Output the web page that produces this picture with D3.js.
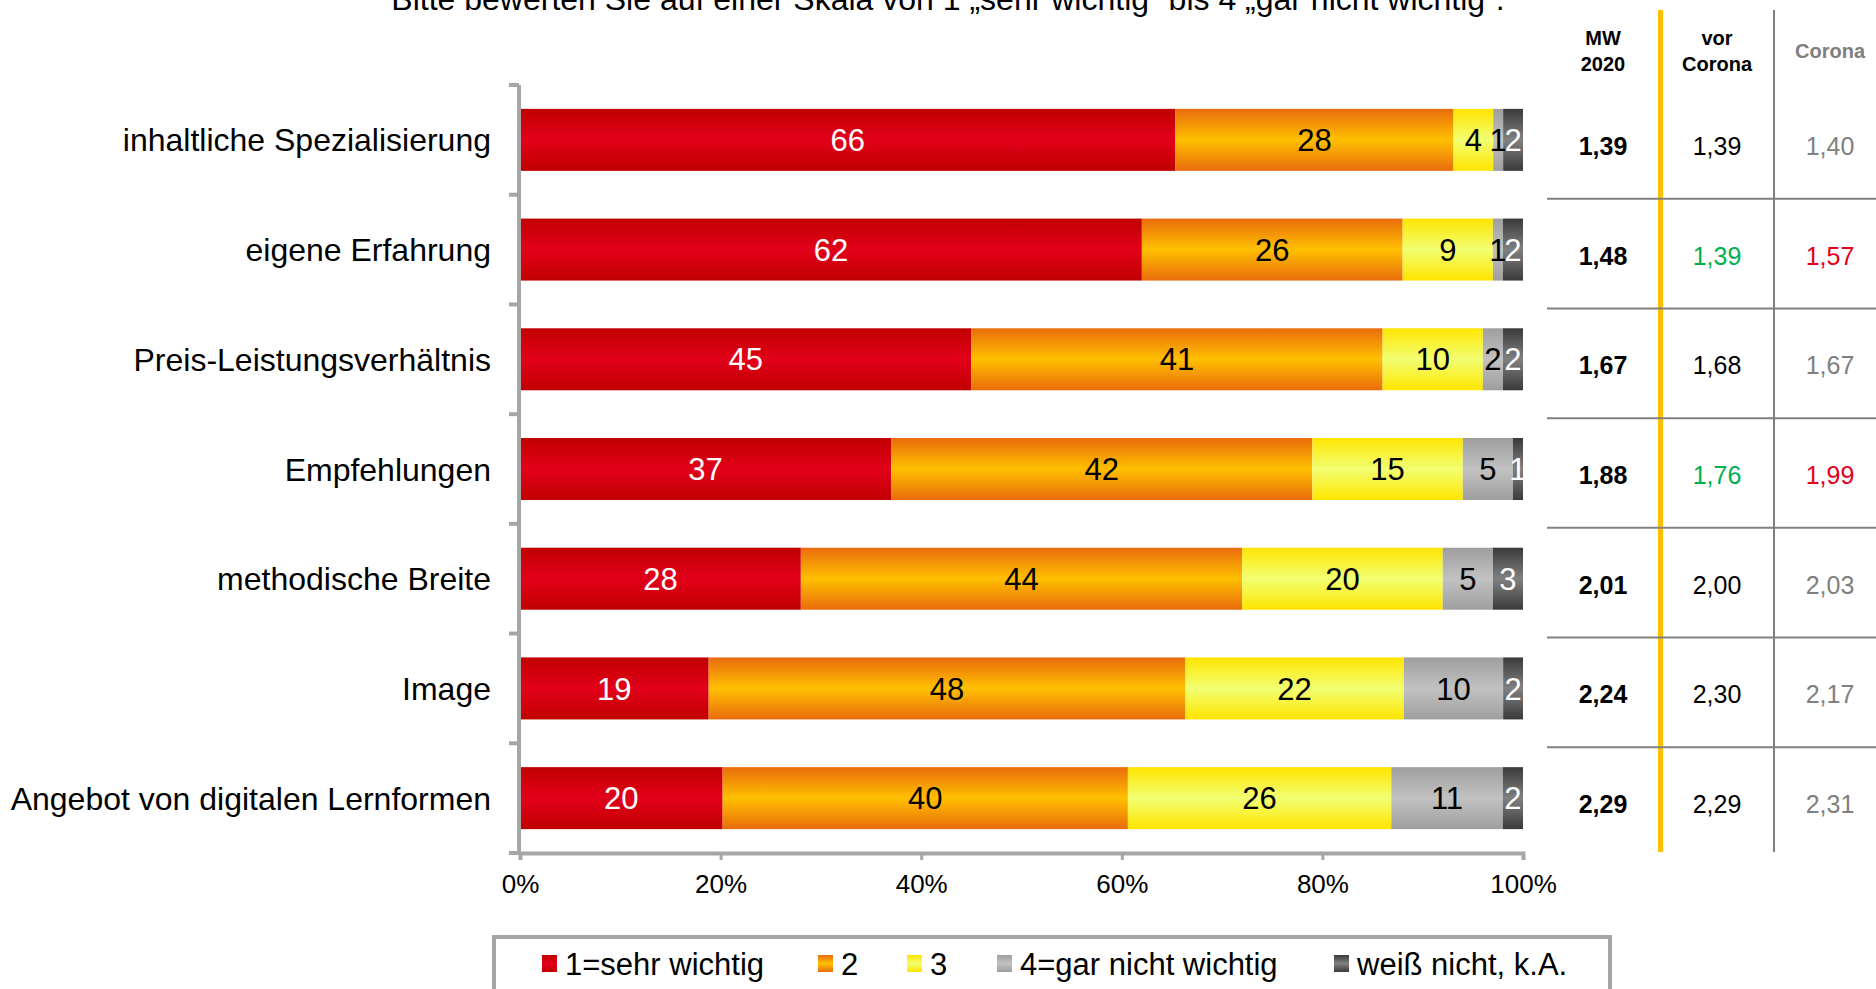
<!DOCTYPE html>
<html><head><meta charset="utf-8">
<script src="https://cdn.jsdelivr.net/npm/d3@7"></script>
<style>
html,body{margin:0;padding:0;background:#fff;}
svg{display:block;font-family:"Liberation Sans",Arial,sans-serif;}
</style></head>
<body>
<svg id="chart" width="1876" height="989"></svg>
<script>
// ---- data ----
const title = "Bitte bewerten Sie auf einer Skala von 1 \u201Esehr wichtig\u201C bis 4 \u201Egar nicht wichtig\u201C.";
const categories = ["inhaltliche Spezialisierung","eigene Erfahrung","Preis-Leistungsverhältnis","Empfehlungen","methodische Breite","Image","Angebot von digitalen Lernformen"];
const seriesNames = ["1=sehr wichtig","2","3","4=gar nicht wichtig","weiß nicht, k.A."];
const sehrWichtig = [66,62,45,37,28,19,20];
const wert2 = [28,26,41,42,44,48,40];
const wert3 = [4,9,10,15,20,22,26];
const garNicht = [1,1,2,5,5,10,11];
const weissNicht = [2,2,2,1,3,2,2];
const mw2020 = ["1,39","1,48","1,67","1,88","2,01","2,24","2,29"];
const vorCorona = ["1,39","1,39","1,68","1,76","2,00","2,30","2,29"];
const vorCoronaTone = ["n","g","n","g","n","n","n"];
const corona = ["1,40","1,57","1,67","1,99","2,03","2,17","2,31"];
const coronaTone = ["n","r","n","r","n","n","n"];
const xTicks = [0,0.2,0.4,0.6,0.8,1];

// ---- setup ----
const svg = d3.select("#chart");
const defs = svg.append("defs");
const grad = [
  ["#c00000","#e2001a"],
  ["#e96c0c","#ffc000"],
  ["#ffe500","#f2ff72"],
  ["#9e9e9e","#c2c2c2"],
  ["#3a3a3a","#808080"]
];
const labelColors = ["#fff","#000","#000","#000","#fff"];
grad.forEach((g,i)=>{
  const lg = defs.append("linearGradient").attr("id","g"+i).attr("x1",0).attr("y1",0).attr("x2",0).attr("y2",1);
  lg.append("stop").attr("offset","0%").attr("stop-color",g[0]);
  lg.append("stop").attr("offset","50%").attr("stop-color",g[1]);
  lg.append("stop").attr("offset","100%").attr("stop-color",g[0]);
});

const rows = categories.map((c,i)=>({cat:c, s0:sehrWichtig[i], s1:wert2[i], s2:wert3[i], s3:garNicht[i], s4:weissNicht[i]}));
const keys = ["s0","s1","s2","s3","s4"];
const stacked = d3.stack().keys(keys).offset(d3.stackOffsetExpand)(rows);

const x = d3.scaleLinear().domain([0,1]).range([520,1523]);
const y = d3.scaleBand().domain(categories).range([85,853]).paddingInner(0.435).paddingOuter(0.2175);

// title
svg.append("text").attr("x",948).attr("y",10).attr("text-anchor","middle")
  .attr("font-size",32).attr("fill","#000").text(title);

// bars
const layer = svg.selectAll("g.layer").data(stacked).join("g").attr("class","layer")
  .attr("fill",(d,i)=>"url(#g"+i+")");
layer.selectAll("rect").data(d=>d).join("rect")
  .attr("x",d=>x(d[0])).attr("width",d=>x(d[1])-x(d[0]))
  .attr("y",d=>y(d.data.cat)).attr("height",y.bandwidth());

// segment labels
stacked.forEach((s,i)=>{
  svg.append("g").selectAll("text").data(s).join("text")
    .attr("x",d=>(x(d[0])+x(d[1]))/2)
    .attr("y",d=>y(d.data.cat)+y.bandwidth()/2)
    .attr("dy","0.36em").attr("text-anchor","middle")
    .attr("font-size",31).attr("fill",labelColors[i])
    .text(d=>d.data[keys[i]]);
});

// axes
const axisColor = "#a6a6a6";
const y0 = y.range()[0], y1 = y.range()[1];
svg.append("line").attr("x1",x(0)-1).attr("x2",x(0)-1).attr("y1",y0).attr("y2",y1+2)
  .attr("stroke",axisColor).attr("stroke-width",4);
d3.range(categories.length+1).forEach(i=>{
  const yy = y0 + i*y.step();
  svg.append("line").attr("x1",x(0)-11).attr("x2",x(0)-1).attr("y1",yy).attr("y2",yy)
    .attr("stroke",axisColor).attr("stroke-width",4);
});
const xAxis = svg.append("g").attr("transform","translate(0,"+y1+")")
  .call(d3.axisBottom(x).tickValues(xTicks).tickFormat(d3.format(".0%")).tickSizeOuter(0).tickSize(7).tickPadding(15));
xAxis.select(".domain").attr("stroke",axisColor).attr("stroke-width",4);
xAxis.selectAll(".tick line").attr("stroke",axisColor).attr("stroke-width",3);
xAxis.selectAll(".tick text").attr("font-size",26).attr("fill","#000").attr("font-family","Liberation Sans, Arial, sans-serif");

// category labels
svg.append("g").selectAll("text").data(categories).join("text")
  .attr("x",491).attr("y",d=>y(d)+y.bandwidth()/2).attr("dy","0.36em")
  .attr("text-anchor","end").attr("font-size",32).attr("fill","#000").text(d=>d);

// table
const colX = [1603,1717,1830];
svg.append("line").attr("x1",1660.5).attr("x2",1660.5).attr("y1",10).attr("y2",852)
  .attr("stroke","#ffc000").attr("stroke-width",5);
svg.append("line").attr("x1",1774).attr("x2",1774).attr("y1",10).attr("y2",852)
  .attr("stroke","#808080").attr("stroke-width",2);
d3.range(1,categories.length).forEach(i=>{
  const yy = y0 + i*y.step() + 4;
  svg.append("line").attr("x1",1547).attr("x2",1876).attr("y1",yy).attr("y2",yy)
    .attr("stroke","#808080").attr("stroke-width",2);
});
const hdr = svg.append("g").attr("font-size",20).attr("font-weight","bold").attr("text-anchor","middle");
hdr.append("text").attr("x",colX[0]).attr("y",45).text("MW");
hdr.append("text").attr("x",colX[0]).attr("y",71).text("2020");
hdr.append("text").attr("x",colX[1]).attr("y",45).text("vor");
hdr.append("text").attr("x",colX[1]).attr("y",71).text("Corona");
hdr.append("text").attr("x",colX[2]).attr("y",58).attr("fill","#808080").text("Corona");

const toneCol = {n:"#000", g:"#00b050", r:"#e2001a"};
const cToneCol = {n:"#808080", g:"#00b050", r:"#e2001a"};
const tcell = (arr, cx, colorFn, bold) => svg.append("g").selectAll("text").data(arr).join("text")
  .attr("x",cx).attr("y",(d,i)=>y(categories[i])+y.bandwidth()/2+6).attr("dy","0.36em")
  .attr("text-anchor","middle").attr("font-size",25).attr("font-weight",bold?"bold":"normal")
  .attr("fill",colorFn).text(d=>d);
tcell(mw2020, colX[0], ()=>"#000", true);
tcell(vorCorona, colX[1], (d,i)=>toneCol[vorCoronaTone[i]], false);
tcell(corona, colX[2], (d,i)=>cToneCol[coronaTone[i]], false);

// legend
svg.append("rect").attr("x",494).attr("y",937).attr("width",1116).attr("height",80)
  .attr("fill","#fff").attr("stroke",axisColor).attr("stroke-width",4);
const legX = [542,818,907,997,1334];
const lg = svg.append("g").selectAll("g").data(seriesNames).join("g")
  .attr("transform",(d,i)=>"translate("+legX[i]+",0)");
lg.append("rect").attr("x",0).attr("y",955).attr("width",15).attr("height",17).attr("fill",(d,i)=>"url(#g"+i+")");
lg.append("text").attr("x",23).attr("y",975).attr("font-size",31).attr("fill","#000").text(d=>d);
</script>
</body></html>
